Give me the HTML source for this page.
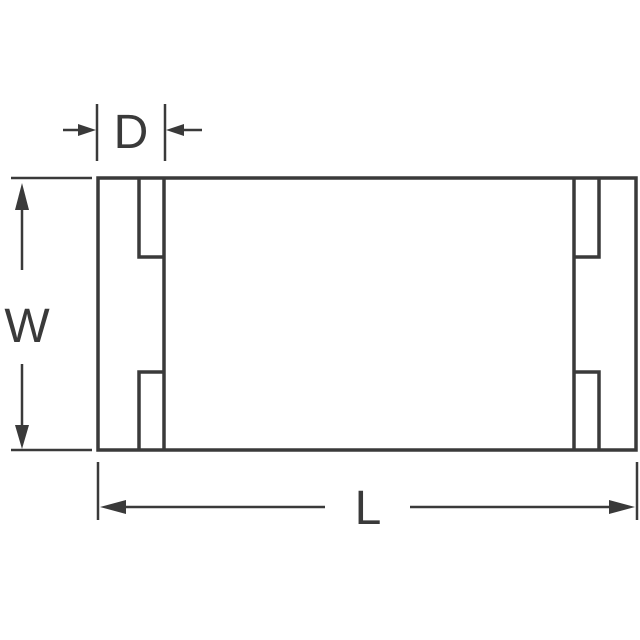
<!DOCTYPE html>
<html><head><style>body{margin:0;background:#fff}svg{display:block}</style></head><body>
<svg width="640" height="640" viewBox="0 0 640 640" xmlns="http://www.w3.org/2000/svg">
<g stroke="#3a3a3a" stroke-width="3.5" fill="none">
<rect x="98" y="178" width="538" height="272"/>
<line x1="164" y1="178" x2="164" y2="450"/>
<polyline points="139,178 139,257 164,257"/>
<polyline points="139,450 139,372 164,372"/>
<line x1="574" y1="178" x2="574" y2="450"/>
<polyline points="599,178 599,257 574,257"/>
<polyline points="599,450 599,372 574,372"/>
</g>
<g stroke="#3a3a3a" stroke-width="2.5" fill="none">
<line x1="97" y1="104" x2="97" y2="161"/>
<line x1="165" y1="104" x2="165" y2="161"/>
<line x1="63" y1="130" x2="85" y2="130"/>
<line x1="178" y1="130" x2="202" y2="130"/>
<line x1="11" y1="178" x2="92" y2="178"/>
<line x1="11" y1="450" x2="92" y2="450"/>
<line x1="22" y1="200" x2="22" y2="270"/>
<line x1="22" y1="364" x2="22" y2="430"/>
<line x1="98" y1="462" x2="98" y2="520"/>
<line x1="637" y1="462" x2="637" y2="520"/>
<line x1="120" y1="507" x2="325" y2="507"/>
<line x1="410" y1="507" x2="615" y2="507"/>
</g>
<g fill="#3a3a3a">
<polygon points="96,130 78,124 78,136"/>
<polygon points="166,130 184,124 184,136"/>
<polygon points="22,183 15,210 29,210"/>
<polygon points="22,449 15,425 29,425"/>
<polygon points="100,507 126,500 126,514"/>
<polygon points="635,507 609,500 609,514"/>
</g>
<g font-family="Liberation Sans, sans-serif" font-size="48" fill="#3a3a3a" text-anchor="middle">
<text x="131" y="148">D</text>
<text x="27" y="342">W</text>
<text x="368" y="524">L</text>
</g>
</svg>
</body></html>
